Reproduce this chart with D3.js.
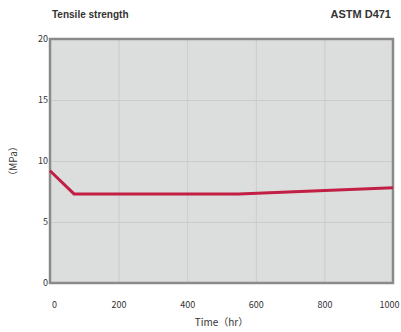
<!DOCTYPE html>
<html>
<head>
<meta charset="utf-8">
<script src="https://cdn.jsdelivr.net/npm/d3@7"></script>
<style>
  body { margin: 0; background: #fff; }
  text { fill: #333; }
</style>
</head>
<body>
<div id="chart"></div>
<script>
// time (hr) and tensile strength (MPa)
var times = [0, 70, 550, 1000];
var strength = [9.2, 7.3, 7.3, 7.8];
var xTicks = [0, 200, 400, 600, 800, 1000];
var yTicks = [0, 5, 10, 15, 20];

var svgWidth = 401;
var svgHeight = 332;
var margin = {top: 39, right: 8, bottom: 49, left: 50};
var labelFont = '"Noto Sans CJK JP", "DejaVu Sans", sans-serif';

var svg = d3.select('#chart').append('svg')
  .attr('width', svgWidth)
  .attr('height', svgHeight);

var x = d3.scaleLinear()
  .domain([0, 1000])
  .range([margin.left, svgWidth - margin.right]);

var y = d3.scaleLinear()
  .domain([0, 20])
  .range([svgHeight - margin.bottom, margin.top]);

// plot background
svg.append('rect')
  .attr('x', x(0))
  .attr('y', y(20))
  .attr('width', x(1000) - x(0))
  .attr('height', y(0) - y(20))
  .attr('fill', '#dcdedd');

// grid lines
svg.append('g')
  .attr('transform', 'translate(0,' + y(0) + ')')
  .call(d3.axisBottom(x).tickValues(xTicks).tickSize(-(y(0) - y(20))).tickFormat(''))
  .call(g => g.select('.domain').remove())
  .selectAll('line').attr('stroke', '#cacccb').attr('stroke-width', 1);

svg.append('g')
  .attr('transform', 'translate(' + x(0) + ',0)')
  .call(d3.axisLeft(y).tickValues(yTicks).tickSize(-(x(1000) - x(0))).tickFormat(''))
  .call(g => g.select('.domain').remove())
  .selectAll('line').attr('stroke', '#cacccb').attr('stroke-width', 1);

// frame
svg.append('rect')
  .attr('x', x(0))
  .attr('y', y(20))
  .attr('width', x(1000) - x(0))
  .attr('height', y(0) - y(20))
  .attr('fill', 'none')
  .attr('stroke', '#8a8a8a')
  .attr('stroke-width', 2.5);

// tick labels
svg.append('g')
  .attr('transform', 'translate(0,' + (y(0) + 16) + ')')
  .call(d3.axisBottom(x).tickValues(xTicks).tickSize(0).tickFormat(d3.format('d')))
  .call(g => g.select('.domain').remove())
  .selectAll('text')
  .style('font-family', labelFont)
  .attr('font-size', 9)
  .attr('fill', '#333')
  .attr('dx', (d, i) => i === 0 ? 4 : (i === xTicks.length - 1 ? -4 : 0));

svg.append('g')
  .attr('transform', 'translate(' + (x(0) + 1) + ',0)')
  .call(d3.axisLeft(y).tickValues(yTicks).tickSize(0).tickFormat(d3.format('d')))
  .call(g => g.select('.domain').remove())
  .selectAll('text')
  .style('font-family', labelFont)
  .attr('font-size', 9)
  .attr('fill', '#444');

// data line
var line = d3.line()
  .x((d, i) => x(times[i]))
  .y(d => y(d));

svg.append('path')
  .datum(strength)
  .attr('d', line)
  .attr('fill', 'none')
  .attr('stroke', '#c21f45')
  .attr('stroke-width', 3);

// titles
svg.append('text')
  .attr('x', 52)
  .attr('y', 18)
  .attr('font-size', 10)
  .attr('font-weight', 'bold')
  .style('font-family', '"Liberation Sans", Arial, sans-serif')
  .attr('fill', '#111')
  .text('Tensile strength');

svg.append('text')
  .attr('x', 391)
  .attr('y', 18)
  .attr('text-anchor', 'end')
  .attr('font-size', 11)
  .attr('font-weight', 'bold')
  .style('font-family', '"Liberation Sans", Arial, sans-serif')
  .attr('fill', '#111')
  .text('ASTM D471');

svg.append('text')
  .attr('x', (x(0) + x(1000)) / 2)
  .attr('y', 326)
  .attr('text-anchor', 'middle')
  .attr('font-size', 10)
  .style('font-family', labelFont)
  .text('Time（hr）');

svg.append('text')
  .attr('transform', 'translate(17,' + y(10) + ') rotate(-90)')
  .attr('text-anchor', 'middle')
  .attr('font-size', 10)
  .style('font-family', labelFont)
  .text('（MPa）');
</script>
</body>
</html>
